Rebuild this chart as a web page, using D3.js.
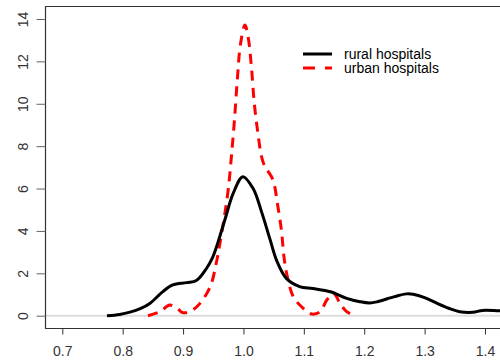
<!DOCTYPE html>
<html><head><meta charset="utf-8">
<script src="https://cdn.jsdelivr.net/npm/d3@7"></script>
<style>body{margin:0;background:#fff}svg{display:block}</style>
</head><body>
<script>
const ruralX = [0.774,0.795,0.812,0.830,0.845,0.867,0.883,0.906,0.922,0.939,0.949,0.956,0.970,0.983,0.999,1.016,1.030,1.044,1.055,1.071,1.093,1.115,1.144,1.171,1.193,1.209,1.222,1.250,1.270,1.281,1.300,1.320,1.340,1.358,1.380,1.396,1.424,1.440];
const ruralY = [0.00,0.06,0.17,0.35,0.58,1.15,1.45,1.56,1.66,2.24,2.75,3.30,4.60,5.77,6.56,6.00,4.90,3.60,2.60,1.76,1.37,1.28,1.13,0.82,0.66,0.60,0.66,0.90,1.03,1.01,0.85,0.59,0.35,0.19,0.16,0.25,0.23,0.23];
const urbanX = [0.842,0.862,0.878,0.890,0.900,0.915,0.928,0.945,0.956,0.961,0.968,0.975,0.980,0.985,0.990,0.995,1.0025,1.008,1.013,1.018,1.024,1.030,1.036,1.041,1.049,1.057,1.063,1.067,1.0715,1.0825,1.099,1.113,1.127,1.138,1.149,1.160,1.171,1.185];
const urbanY = [0.00,0.20,0.50,0.35,0.14,0.25,0.58,1.37,2.63,3.41,4.60,6.00,7.50,9.20,11.20,12.80,13.72,13.10,11.80,10.00,8.60,7.50,7.00,6.80,6.40,5.15,4.00,2.80,2.00,0.90,0.35,0.08,0.19,0.74,1.06,0.58,0.19,0.00];
const xTicks = [0.7,0.8,0.9,1.0,1.1,1.2,1.3,1.4];
const yTicks = [0,2,4,6,8,10,12,14];
const legendLabels = ["rural hospitals","urban hospitals"];

const W = 500, H = 364;
const svg = d3.select("body").append("svg").attr("width", W).attr("height", H);
const x = d3.scaleLinear().domain([0.7,1.4]).range([62.3,485]);
const y = d3.scaleLinear().domain([0,14]).range([315.7,19]);
const font = "'Liberation Sans', Arial, sans-serif";

svg.append("defs").append("clipPath").attr("id","clip")
  .append("rect").attr("x",45).attr("y",6).attr("width",W-45).attr("height",322);

// zero line
svg.append("line").attr("x1",45).attr("x2",W).attr("y1",y(0)).attr("y2",y(0))
  .attr("stroke","#dcdcdc").attr("stroke-width",2);

// box
svg.append("path").attr("d",`M${W+2},6.5H45.5V328.5H${W+2}`)
  .attr("fill","none").attr("stroke","#333").attr("stroke-width",1.2);

// y axis
const ya = svg.append("g").attr("transform","translate(45.5,0)")
  .call(d3.axisLeft(y).tickValues(yTicks).tickSize(9).tickFormat(d3.format("d")));
ya.select(".domain").remove();
ya.selectAll(".tick line").attr("stroke","#666");
ya.selectAll(".tick text").attr("font-family",font).attr("font-size",14).attr("fill","#333")
  .attr("x",0).attr("dy",0).attr("text-anchor","middle")
  .attr("transform","translate(-23,0) rotate(-90)").attr("dy","0.36em");

// x axis
const xa = svg.append("g").attr("transform","translate(0,328.5)")
  .call(d3.axisBottom(x).tickValues(xTicks).tickSize(6).tickFormat(d3.format(".1f")));
xa.select(".domain").remove();
xa.selectAll(".tick line").attr("stroke","#333");
xa.selectAll(".tick text").attr("font-family",font).attr("font-size",14).attr("fill","#333")
  .attr("y",18).attr("dy","0.71em");

const line = d3.line().x(d=>x(d[0])).y(d=>y(d[1])).curve(d3.curveCatmullRom.alpha(0.5));
const g = svg.append("g").attr("clip-path","url(#clip)");
g.append("path").datum(d3.zip(urbanX,urbanY)).attr("d",line)
  .attr("fill","none").attr("stroke","#ff0000").attr("stroke-width",3).attr("stroke-dasharray","10,7");
g.append("path").datum(d3.zip(ruralX,ruralY)).attr("d",line)
  .attr("fill","none").attr("stroke","#000").attr("stroke-width",3);

// legend
const lg = svg.append("g");
const ly = [54,68], cols = ["#000","#ff0000"], dash = [null,"12,10"];
legendLabels.forEach((t,i)=>{
  lg.append("line").attr("x1",303).attr("x2",332).attr("y1",ly[i]).attr("y2",ly[i])
    .attr("stroke",cols[i]).attr("stroke-width",3).attr("stroke-dasharray",dash[i]);
  lg.append("text").attr("x",344).attr("y",ly[i]).attr("dy","0.35em")
    .attr("font-family",font).attr("font-size",14).attr("fill","#000").text(t);
});
</script>
</body></html>
